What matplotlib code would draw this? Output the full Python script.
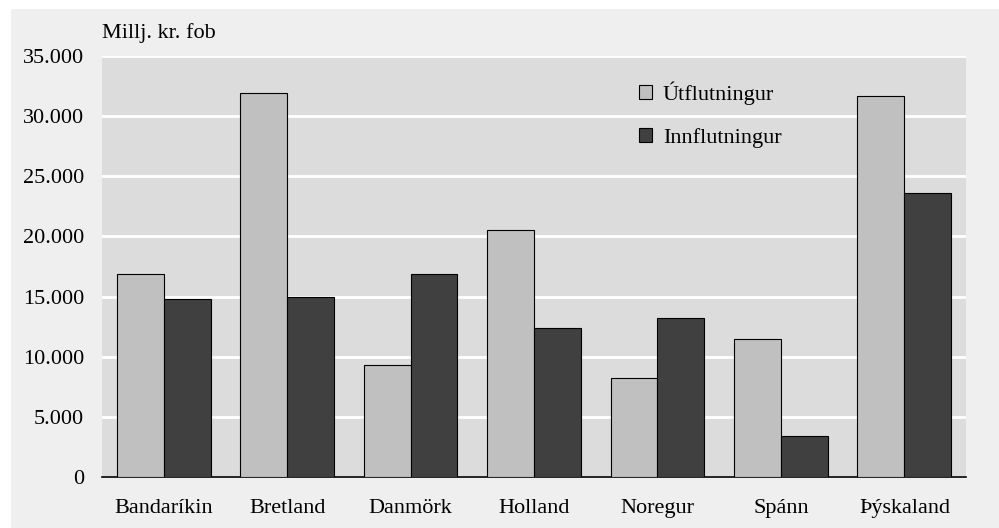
import matplotlib
matplotlib.use("Agg")
import matplotlib.pyplot as plt
import numpy as np
from matplotlib.patches import Patch, Rectangle
from matplotlib.ticker import FuncFormatter, MultipleLocator

# Viðskiptalönd, milljónir króna fob
countries = ["Bandaríkin", "Bretland", "Danmörk", "Holland", "Noregur", "Spánn", "Þýskaland"]
utflutningur = [16900, 31900, 9300, 20500, 8200, 11500, 31700]
innflutningur = [14800, 15000, 16900, 12400, 13250, 3450, 23600]
series_names = ["Útflutningur", "Innflutningur"]

plt.rcParams["font.family"] = ["Liberation Serif", "DejaVu Serif"]
fs = 16

fig = plt.figure(figsize=(9.99, 5.28), dpi=100, facecolor="white")
# light grey panel, white strip on top and left
fig.patches.append(Rectangle((11 / 999, 0), 1, 1 - 9 / 528, transform=fig.transFigure,
                             facecolor="#efefef", edgecolor="none", zorder=-10))

ax = fig.add_axes([102 / 999, 1 - 477 / 528, 864 / 999, 421 / 528])
ax.set_facecolor("#dcdcdc")

x = np.arange(len(countries))
w = 0.38
ax.bar(x - w / 2, utflutningur, w, color="#c0c0c0", edgecolor="black", linewidth=0.8,
       zorder=3, label=series_names[0])
ax.bar(x + w / 2, innflutningur, w, color="#404040", edgecolor="black", linewidth=0.8,
       zorder=3, label=series_names[1])

ax.set_xlim(-0.5, len(countries) - 0.5)
ax.set_ylim(0, 35000)
ax.yaxis.set_major_locator(MultipleLocator(5000))
ax.yaxis.set_major_formatter(FuncFormatter(lambda v, p: f"{int(v):,}".replace(",", ".")))
ax.grid(axis="y", color="white", linewidth=2, zorder=1)
ax.set_axisbelow(True)

ax.set_xticks(x)
ax.set_xticklabels(countries)
ax.tick_params(axis="both", length=0, labelsize=fs)
ax.tick_params(axis="y", pad=13)
ax.tick_params(axis="x", pad=16)

for s in ["left", "right", "top"]:
    ax.spines[s].set_visible(False)
ax.spines["bottom"].set_color("black")
ax.spines["bottom"].set_linewidth(1.2)

fig.text(102 / 999, 1 - 33 / 528, "Millj. kr. fob", fontsize=fs, ha="left", va="center")

handles = [Patch(facecolor="#c0c0c0", edgecolor="black", linewidth=0.8),
           Patch(facecolor="#404040", edgecolor="black", linewidth=0.8)]
ax.legend(handles, series_names, loc="upper left", bbox_to_anchor=(0.622, 0.94),
          frameon=False, fontsize=fs, handlelength=0.55, handleheight=0.55,
          handletextpad=0.5, labelspacing=1.05, borderpad=0, borderaxespad=0)

fig.savefig("out.png", dpi=100, facecolor=fig.get_facecolor())
